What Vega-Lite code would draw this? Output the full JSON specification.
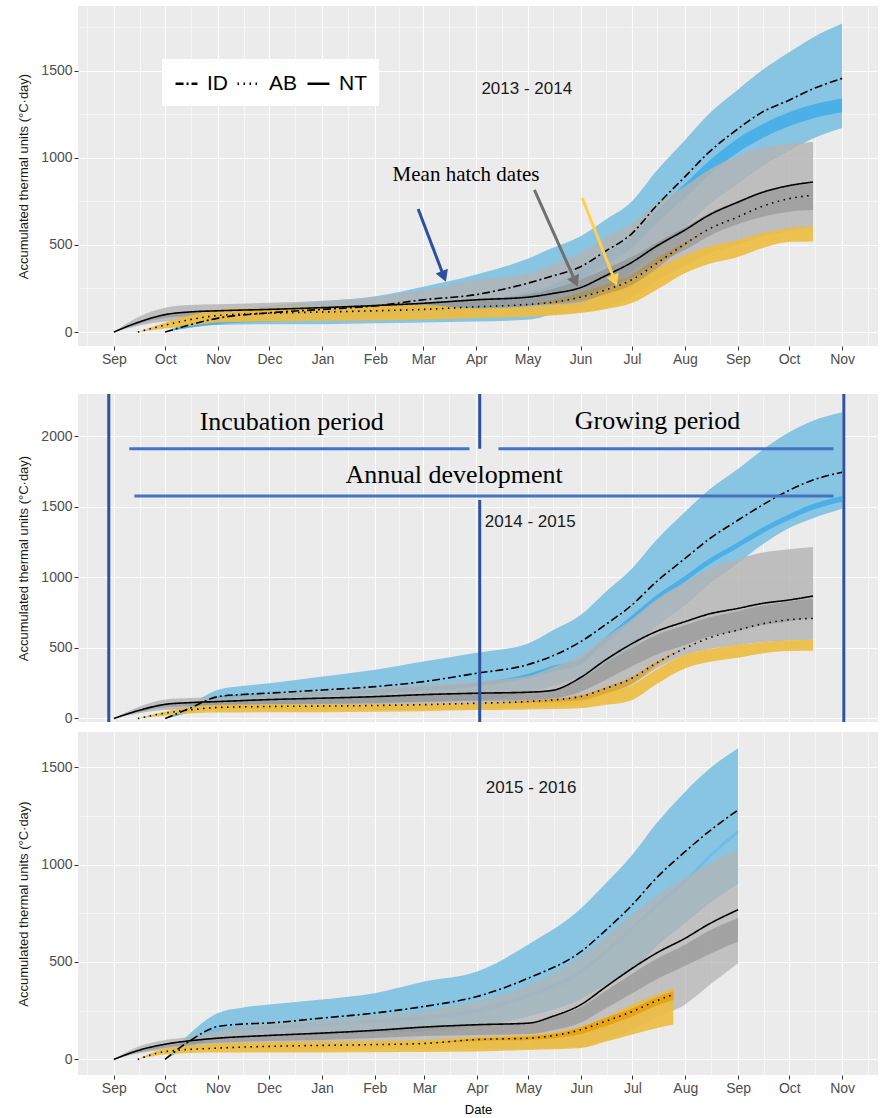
{
  "$schema": "https://vega.github.io/schema/vega-lite/v6.json",
  "padding": {"left": 17, "top": 6, "right": 0, "bottom": 0},
  "background": "white",
  "spacing": 6,
  "resolve": {"scale": {"strokeDash": "independent"}},
  "config": {
    "font": "Liberation Sans",
    "view": {"fill": "#ebebeb", "stroke": null},
    "axis": {"domain": false, "tickColor": "#333333", "tickSize": 4, "labelFontSize": 14, "labelColor": "#4d4d4d", "labelPadding": 2, "gridColor": "#ffffff", "titleFontSize": 13, "titleFontWeight": "normal", "titleColor": "#1a1a1a", "labelFont": "Liberation Sans", "titleFont": "Liberation Sans"}
  },
  "datasets": {
    "series": [
      {"p":1,"s":"NT","d":"2013-09-01","m":0,"lo":0,"hi":0,"ilo":0,"ihi":0},
      {"p":1,"s":"NT","d":"2013-09-15","m":55,"lo":35,"hi":85,"ilo":45,"ihi":58},
      {"p":1,"s":"NT","d":"2013-10-01","m":100,"lo":60,"hi":140,"ilo":80,"ihi":104},
      {"p":1,"s":"NT","d":"2013-10-15","m":115,"lo":65,"hi":155,"ilo":90,"ihi":118},
      {"p":1,"s":"NT","d":"2013-11-01","m":122,"lo":65,"hi":160,"ilo":95,"ihi":124},
      {"p":1,"s":"NT","d":"2013-12-01","m":130,"lo":65,"hi":168,"ilo":100,"ihi":132},
      {"p":1,"s":"NT","d":"2014-01-01","m":140,"lo":65,"hi":180,"ilo":105,"ihi":142},
      {"p":1,"s":"NT","d":"2014-02-01","m":152,"lo":65,"hi":200,"ilo":112,"ihi":154},
      {"p":1,"s":"NT","d":"2014-03-01","m":165,"lo":70,"hi":240,"ilo":120,"ihi":168},
      {"p":1,"s":"NT","d":"2014-04-01","m":185,"lo":80,"hi":300,"ilo":135,"ihi":190},
      {"p":1,"s":"NT","d":"2014-05-01","m":200,"lo":95,"hi":335,"ilo":150,"ihi":215},
      {"p":1,"s":"NT","d":"2014-05-15","m":220,"lo":105,"hi":385,"ilo":165,"ihi":245},
      {"p":1,"s":"NT","d":"2014-06-01","m":255,"lo":115,"hi":455,"ilo":200,"ihi":300},
      {"p":1,"s":"NT","d":"2014-06-15","m":320,"lo":140,"hi":540,"ilo":250,"ihi":360},
      {"p":1,"s":"NT","d":"2014-07-01","m":400,"lo":200,"hi":625,"ilo":310,"ihi":430},
      {"p":1,"s":"NT","d":"2014-07-15","m":490,"lo":290,"hi":730,"ilo":390,"ihi":510},
      {"p":1,"s":"NT","d":"2014-08-01","m":585,"lo":380,"hi":835,"ilo":470,"ihi":600},
      {"p":1,"s":"NT","d":"2014-08-15","m":670,"lo":450,"hi":930,"ilo":550,"ihi":680},
      {"p":1,"s":"NT","d":"2014-09-01","m":745,"lo":500,"hi":1010,"ilo":620,"ihi":750},
      {"p":1,"s":"NT","d":"2014-09-15","m":800,"lo":545,"hi":1055,"ilo":660,"ihi":800},
      {"p":1,"s":"NT","d":"2014-10-01","m":840,"lo":580,"hi":1080,"ilo":690,"ihi":840},
      {"p":1,"s":"NT","d":"2014-10-15","m":860,"lo":600,"hi":1090,"ilo":700,"ihi":850},

      {"p":1,"s":"ID","d":"2013-10-01","m":0,"lo":0,"hi":0,"ilo":0,"ihi":0},
      {"p":1,"s":"ID","d":"2013-10-15","m":40,"lo":25,"hi":60,"ilo":25,"ihi":45},
      {"p":1,"s":"ID","d":"2013-11-01","m":80,"lo":40,"hi":110,"ilo":45,"ihi":85},
      {"p":1,"s":"ID","d":"2013-12-01","m":110,"lo":45,"hi":150,"ilo":60,"ihi":110},
      {"p":1,"s":"ID","d":"2014-01-01","m":130,"lo":45,"hi":175,"ilo":70,"ihi":125},
      {"p":1,"s":"ID","d":"2014-02-01","m":150,"lo":50,"hi":205,"ilo":85,"ihi":140},
      {"p":1,"s":"ID","d":"2014-03-01","m":185,"lo":55,"hi":260,"ilo":100,"ihi":160},
      {"p":1,"s":"ID","d":"2014-04-01","m":215,"lo":60,"hi":330,"ilo":120,"ihi":185},
      {"p":1,"s":"ID","d":"2014-05-01","m":280,"lo":70,"hi":420,"ilo":150,"ihi":230},
      {"p":1,"s":"ID","d":"2014-05-15","m":320,"lo":100,"hi":480,"ilo":200,"ihi":270},
      {"p":1,"s":"ID","d":"2014-06-01","m":375,"lo":150,"hi":550,"ilo":290,"ihi":360},
      {"p":1,"s":"ID","d":"2014-06-15","m":460,"lo":240,"hi":640,"ilo":380,"ihi":450},
      {"p":1,"s":"ID","d":"2014-07-01","m":565,"lo":350,"hi":750,"ilo":480,"ihi":550},
      {"p":1,"s":"ID","d":"2014-07-15","m":720,"lo":470,"hi":920,"ilo":620,"ihi":690},
      {"p":1,"s":"ID","d":"2014-08-01","m":890,"lo":600,"hi":1100,"ilo":770,"ihi":850},
      {"p":1,"s":"ID","d":"2014-08-15","m":1030,"lo":730,"hi":1250,"ilo":900,"ihi":980},
      {"p":1,"s":"ID","d":"2014-09-01","m":1165,"lo":850,"hi":1390,"ilo":1030,"ihi":1110},
      {"p":1,"s":"ID","d":"2014-09-15","m":1260,"lo":950,"hi":1500,"ilo":1110,"ihi":1190},
      {"p":1,"s":"ID","d":"2014-10-01","m":1330,"lo":1040,"hi":1605,"ilo":1180,"ihi":1260},
      {"p":1,"s":"ID","d":"2014-10-15","m":1395,"lo":1110,"hi":1690,"ilo":1225,"ihi":1305},
      {"p":1,"s":"ID","d":"2014-11-01","m":1455,"lo":1170,"hi":1770,"ilo":1260,"ihi":1340},

      {"p":1,"s":"AB","d":"2013-09-15","m":0,"lo":0,"hi":0,"ilo":0,"ihi":0},
      {"p":1,"s":"AB","d":"2013-10-01","m":40,"lo":20,"hi":55,"ilo":40,"ihi":40},
      {"p":1,"s":"AB","d":"2013-10-15","m":70,"lo":35,"hi":95,"ilo":70,"ihi":70},
      {"p":1,"s":"AB","d":"2013-11-01","m":95,"lo":55,"hi":125,"ilo":95,"ihi":95},
      {"p":1,"s":"AB","d":"2013-12-01","m":108,"lo":60,"hi":140,"ilo":108,"ihi":108},
      {"p":1,"s":"AB","d":"2014-01-01","m":115,"lo":65,"hi":145,"ilo":115,"ihi":115},
      {"p":1,"s":"AB","d":"2014-02-01","m":122,"lo":68,"hi":150,"ilo":122,"ihi":122},
      {"p":1,"s":"AB","d":"2014-03-01","m":130,"lo":72,"hi":155,"ilo":130,"ihi":130},
      {"p":1,"s":"AB","d":"2014-04-01","m":145,"lo":80,"hi":135,"ilo":145,"ihi":145},
      {"p":1,"s":"AB","d":"2014-05-01","m":158,"lo":88,"hi":145,"ilo":158,"ihi":158},
      {"p":1,"s":"AB","d":"2014-05-15","m":170,"lo":95,"hi":155,"ilo":160,"ihi":182},
      {"p":1,"s":"AB","d":"2014-06-01","m":200,"lo":109,"hi":170,"ilo":175,"ihi":225},
      {"p":1,"s":"AB","d":"2014-06-15","m":240,"lo":130,"hi":230,"ilo":215,"ihi":270},
      {"p":1,"s":"AB","d":"2014-07-01","m":300,"lo":166,"hi":285,"ilo":270,"ihi":330},
      {"p":1,"s":"AB","d":"2014-07-15","m":390,"lo":240,"hi":360,"ilo":360,"ihi":420},
      {"p":1,"s":"AB","d":"2014-08-01","m":505,"lo":337,"hi":440,"ilo":495,"ihi":515},
      {"p":1,"s":"AB","d":"2014-08-15","m":590,"lo":390,"hi":490,"ilo":590,"ihi":590},
      {"p":1,"s":"AB","d":"2014-09-01","m":660,"lo":430,"hi":527,"ilo":660,"ihi":660},
      {"p":1,"s":"AB","d":"2014-09-15","m":720,"lo":480,"hi":565,"ilo":720,"ihi":720},
      {"p":1,"s":"AB","d":"2014-10-01","m":765,"lo":517,"hi":596,"ilo":765,"ihi":765},
      {"p":1,"s":"AB","d":"2014-10-15","m":785,"lo":520,"hi":605,"ilo":785,"ihi":785},

      {"p":2,"s":"NT","d":"2014-09-01","m":0,"lo":0,"hi":0,"ilo":0,"ihi":0},
      {"p":2,"s":"NT","d":"2014-09-15","m":55,"lo":35,"hi":80,"ilo":45,"ihi":58},
      {"p":2,"s":"NT","d":"2014-10-01","m":100,"lo":60,"hi":135,"ilo":80,"ihi":104},
      {"p":2,"s":"NT","d":"2014-10-15","m":112,"lo":62,"hi":145,"ilo":88,"ihi":115},
      {"p":2,"s":"NT","d":"2014-11-01","m":120,"lo":62,"hi":150,"ilo":92,"ihi":123},
      {"p":2,"s":"NT","d":"2014-12-01","m":134,"lo":62,"hi":175,"ilo":100,"ihi":137},
      {"p":2,"s":"NT","d":"2015-01-01","m":144,"lo":62,"hi":195,"ilo":105,"ihi":147},
      {"p":2,"s":"NT","d":"2015-02-01","m":155,"lo":62,"hi":215,"ilo":110,"ihi":158},
      {"p":2,"s":"NT","d":"2015-03-01","m":169,"lo":65,"hi":240,"ilo":118,"ihi":172},
      {"p":2,"s":"NT","d":"2015-04-01","m":179,"lo":70,"hi":265,"ilo":125,"ihi":182},
      {"p":2,"s":"NT","d":"2015-05-01","m":186,"lo":80,"hi":300,"ilo":130,"ihi":190},
      {"p":2,"s":"NT","d":"2015-05-15","m":198,"lo":90,"hi":360,"ilo":140,"ihi":200},
      {"p":2,"s":"NT","d":"2015-06-01","m":290,"lo":110,"hi":450,"ilo":190,"ihi":280},
      {"p":2,"s":"NT","d":"2015-06-15","m":410,"lo":170,"hi":570,"ilo":270,"ihi":390},
      {"p":2,"s":"NT","d":"2015-07-01","m":530,"lo":240,"hi":705,"ilo":370,"ihi":500},
      {"p":2,"s":"NT","d":"2015-07-15","m":615,"lo":350,"hi":840,"ilo":450,"ihi":590},
      {"p":2,"s":"NT","d":"2015-08-01","m":686,"lo":450,"hi":965,"ilo":520,"ihi":660},
      {"p":2,"s":"NT","d":"2015-08-15","m":740,"lo":490,"hi":1060,"ilo":580,"ihi":715},
      {"p":2,"s":"NT","d":"2015-09-01","m":780,"lo":520,"hi":1130,"ilo":620,"ihi":760},
      {"p":2,"s":"NT","d":"2015-09-15","m":815,"lo":540,"hi":1175,"ilo":660,"ihi":800},
      {"p":2,"s":"NT","d":"2015-10-01","m":840,"lo":552,"hi":1200,"ilo":690,"ihi":830},
      {"p":2,"s":"NT","d":"2015-10-15","m":868,"lo":558,"hi":1215,"ilo":710,"ihi":850},

      {"p":2,"s":"ID","d":"2014-10-01","m":0,"lo":0,"hi":0,"ilo":0,"ihi":0},
      {"p":2,"s":"ID","d":"2014-10-15","m":70,"lo":40,"hi":95,"ilo":45,"ihi":80},
      {"p":2,"s":"ID","d":"2014-11-01","m":155,"lo":80,"hi":204,"ilo":125,"ihi":155},
      {"p":2,"s":"ID","d":"2014-11-15","m":170,"lo":90,"hi":230,"ilo":140,"ihi":170},
      {"p":2,"s":"ID","d":"2014-12-01","m":180,"lo":95,"hi":250,"ilo":145,"ihi":175},
      {"p":2,"s":"ID","d":"2015-01-01","m":202,"lo":100,"hi":297,"ilo":160,"ihi":190},
      {"p":2,"s":"ID","d":"2015-02-01","m":226,"lo":105,"hi":345,"ilo":175,"ihi":205},
      {"p":2,"s":"ID","d":"2015-03-01","m":261,"lo":115,"hi":403,"ilo":195,"ihi":225},
      {"p":2,"s":"ID","d":"2015-04-01","m":320,"lo":130,"hi":465,"ilo":225,"ihi":255},
      {"p":2,"s":"ID","d":"2015-05-01","m":381,"lo":180,"hi":530,"ilo":285,"ihi":315},
      {"p":2,"s":"ID","d":"2015-05-15","m":440,"lo":230,"hi":620,"ilo":330,"ihi":370},
      {"p":2,"s":"ID","d":"2015-06-01","m":544,"lo":300,"hi":733,"ilo":385,"ihi":425},
      {"p":2,"s":"ID","d":"2015-06-15","m":660,"lo":390,"hi":890,"ilo":530,"ihi":570},
      {"p":2,"s":"ID","d":"2015-07-01","m":804,"lo":500,"hi":1062,"ilo":690,"ihi":730},
      {"p":2,"s":"ID","d":"2015-07-15","m":965,"lo":650,"hi":1260,"ilo":830,"ihi":870},
      {"p":2,"s":"ID","d":"2015-08-01","m":1133,"lo":800,"hi":1463,"ilo":970,"ihi":1010},
      {"p":2,"s":"ID","d":"2015-08-15","m":1270,"lo":950,"hi":1620,"ilo":1090,"ihi":1130},
      {"p":2,"s":"ID","d":"2015-09-01","m":1405,"lo":1100,"hi":1769,"ilo":1210,"ihi":1250},
      {"p":2,"s":"ID","d":"2015-09-15","m":1510,"lo":1230,"hi":1900,"ilo":1310,"ihi":1350},
      {"p":2,"s":"ID","d":"2015-10-01","m":1617,"lo":1350,"hi":2028,"ilo":1408,"ihi":1448},
      {"p":2,"s":"ID","d":"2015-10-15","m":1690,"lo":1420,"hi":2110,"ilo":1480,"ihi":1520},
      {"p":2,"s":"ID","d":"2015-11-01","m":1745,"lo":1486,"hi":2170,"ilo":1537,"ihi":1577},

      {"p":2,"s":"AB","d":"2014-09-15","m":0,"lo":0,"hi":0,"ilo":0,"ihi":0},
      {"p":2,"s":"AB","d":"2014-10-01","m":38,"lo":20,"hi":50,"ilo":38,"ihi":38},
      {"p":2,"s":"AB","d":"2014-10-15","m":60,"lo":35,"hi":80,"ilo":60,"ihi":60},
      {"p":2,"s":"AB","d":"2014-11-01","m":78,"lo":42,"hi":98,"ilo":78,"ihi":78},
      {"p":2,"s":"AB","d":"2014-12-01","m":85,"lo":45,"hi":100,"ilo":85,"ihi":85},
      {"p":2,"s":"AB","d":"2015-01-01","m":88,"lo":45,"hi":100,"ilo":88,"ihi":88},
      {"p":2,"s":"AB","d":"2015-02-01","m":92,"lo":48,"hi":102,"ilo":92,"ihi":92},
      {"p":2,"s":"AB","d":"2015-03-01","m":98,"lo":52,"hi":105,"ilo":98,"ihi":98},
      {"p":2,"s":"AB","d":"2015-04-01","m":108,"lo":60,"hi":110,"ilo":108,"ihi":108},
      {"p":2,"s":"AB","d":"2015-05-01","m":120,"lo":64,"hi":120,"ilo":112,"ihi":125},
      {"p":2,"s":"AB","d":"2015-06-01","m":155,"lo":73,"hi":140,"ilo":130,"ihi":165},
      {"p":2,"s":"AB","d":"2015-06-15","m":210,"lo":95,"hi":190,"ilo":175,"ihi":220},
      {"p":2,"s":"AB","d":"2015-07-01","m":285,"lo":130,"hi":237,"ilo":245,"ihi":295},
      {"p":2,"s":"AB","d":"2015-07-15","m":390,"lo":240,"hi":345,"ilo":370,"ihi":400},
      {"p":2,"s":"AB","d":"2015-08-01","m":497,"lo":355,"hi":452,"ilo":497,"ihi":497},
      {"p":2,"s":"AB","d":"2015-08-15","m":570,"lo":400,"hi":490,"ilo":570,"ihi":570},
      {"p":2,"s":"AB","d":"2015-09-01","m":627,"lo":430,"hi":522,"ilo":627,"ihi":627},
      {"p":2,"s":"AB","d":"2015-09-15","m":670,"lo":460,"hi":540,"ilo":670,"ihi":670},
      {"p":2,"s":"AB","d":"2015-10-01","m":700,"lo":478,"hi":555,"ilo":700,"ihi":700},
      {"p":2,"s":"AB","d":"2015-10-15","m":709,"lo":480,"hi":558,"ilo":709,"ihi":709},

      {"p":3,"s":"NT","d":"2015-09-01","m":0,"lo":0,"hi":0,"ilo":0,"ihi":0},
      {"p":3,"s":"NT","d":"2015-09-15","m":45,"lo":30,"hi":65,"ilo":35,"ihi":48},
      {"p":3,"s":"NT","d":"2015-10-01","m":78,"lo":50,"hi":100,"ilo":60,"ihi":80},
      {"p":3,"s":"NT","d":"2015-10-15","m":95,"lo":55,"hi":115,"ilo":75,"ihi":97},
      {"p":3,"s":"NT","d":"2015-11-01","m":109,"lo":55,"hi":150,"ilo":85,"ihi":111},
      {"p":3,"s":"NT","d":"2015-12-01","m":123,"lo":55,"hi":185,"ilo":95,"ihi":125},
      {"p":3,"s":"NT","d":"2016-01-01","m":135,"lo":55,"hi":200,"ilo":100,"ihi":137},
      {"p":3,"s":"NT","d":"2016-02-01","m":149,"lo":55,"hi":225,"ilo":110,"ihi":151},
      {"p":3,"s":"NT","d":"2016-03-01","m":166,"lo":55,"hi":250,"ilo":120,"ihi":168},
      {"p":3,"s":"NT","d":"2016-04-01","m":178,"lo":55,"hi":300,"ilo":125,"ihi":180},
      {"p":3,"s":"NT","d":"2016-05-01","m":186,"lo":55,"hi":380,"ilo":130,"ihi":188},
      {"p":3,"s":"NT","d":"2016-05-15","m":220,"lo":58,"hi":440,"ilo":150,"ihi":215},
      {"p":3,"s":"NT","d":"2016-06-01","m":282,"lo":65,"hi":530,"ilo":190,"ihi":270},
      {"p":3,"s":"NT","d":"2016-06-15","m":370,"lo":100,"hi":630,"ilo":260,"ihi":350},
      {"p":3,"s":"NT","d":"2016-07-01","m":468,"lo":150,"hi":743,"ilo":340,"ihi":440},
      {"p":3,"s":"NT","d":"2016-07-15","m":545,"lo":215,"hi":840,"ilo":410,"ihi":515},
      {"p":3,"s":"NT","d":"2016-08-01","m":622,"lo":282,"hi":930,"ilo":480,"ihi":590},
      {"p":3,"s":"NT","d":"2016-08-15","m":695,"lo":380,"hi":1005,"ilo":540,"ihi":660},
      {"p":3,"s":"NT","d":"2016-09-01","m":768,"lo":494,"hi":1077,"ilo":605,"ihi":725},

      {"p":3,"s":"ID","d":"2015-10-01","m":0,"lo":0,"hi":0,"ilo":0,"ihi":0},
      {"p":3,"s":"ID","d":"2015-10-15","m":92,"lo":60,"hi":128,"ilo":70,"ihi":95},
      {"p":3,"s":"ID","d":"2015-11-01","m":169,"lo":110,"hi":238,"ilo":140,"ihi":160},
      {"p":3,"s":"ID","d":"2015-11-15","m":181,"lo":115,"hi":265,"ilo":148,"ihi":168},
      {"p":3,"s":"ID","d":"2015-12-01","m":187,"lo":120,"hi":282,"ilo":153,"ihi":173},
      {"p":3,"s":"ID","d":"2016-01-01","m":212,"lo":125,"hi":308,"ilo":170,"ihi":190},
      {"p":3,"s":"ID","d":"2016-02-01","m":238,"lo":135,"hi":340,"ilo":185,"ihi":205},
      {"p":3,"s":"ID","d":"2016-03-01","m":272,"lo":145,"hi":400,"ilo":205,"ihi":225},
      {"p":3,"s":"ID","d":"2016-04-01","m":323,"lo":170,"hi":451,"ilo":240,"ihi":260},
      {"p":3,"s":"ID","d":"2016-05-01","m":417,"lo":220,"hi":590,"ilo":320,"ihi":340},
      {"p":3,"s":"ID","d":"2016-06-01","m":554,"lo":310,"hi":776,"ilo":440,"ihi":460},
      {"p":3,"s":"ID","d":"2016-06-15","m":660,"lo":380,"hi":900,"ilo":540,"ihi":560},
      {"p":3,"s":"ID","d":"2016-07-01","m":794,"lo":460,"hi":1050,"ilo":663,"ihi":683},
      {"p":3,"s":"ID","d":"2016-07-15","m":930,"lo":580,"hi":1210,"ilo":780,"ihi":800},
      {"p":3,"s":"ID","d":"2016-08-01","m":1067,"lo":700,"hi":1374,"ilo":903,"ihi":923},
      {"p":3,"s":"ID","d":"2016-08-15","m":1170,"lo":800,"hi":1490,"ilo":1030,"ihi":1050},
      {"p":3,"s":"ID","d":"2016-09-01","m":1280,"lo":900,"hi":1596,"ilo":1159,"ihi":1179},

      {"p":3,"s":"AB","d":"2015-09-15","m":0,"lo":0,"hi":0,"ilo":0,"ihi":0},
      {"p":3,"s":"AB","d":"2015-10-01","m":40,"lo":25,"hi":55,"ilo":40,"ihi":40},
      {"p":3,"s":"AB","d":"2015-11-01","m":58,"lo":35,"hi":80,"ilo":58,"ihi":58},
      {"p":3,"s":"AB","d":"2015-12-01","m":67,"lo":35,"hi":88,"ilo":67,"ihi":67},
      {"p":3,"s":"AB","d":"2016-01-01","m":72,"lo":36,"hi":92,"ilo":72,"ihi":72},
      {"p":3,"s":"AB","d":"2016-02-01","m":76,"lo":37,"hi":95,"ilo":76,"ihi":76},
      {"p":3,"s":"AB","d":"2016-03-01","m":82,"lo":38,"hi":100,"ilo":82,"ihi":82},
      {"p":3,"s":"AB","d":"2016-04-01","m":102,"lo":41,"hi":115,"ilo":95,"ihi":108},
      {"p":3,"s":"AB","d":"2016-05-01","m":109,"lo":48,"hi":125,"ilo":100,"ihi":118},
      {"p":3,"s":"AB","d":"2016-06-01","m":153,"lo":58,"hi":170,"ilo":130,"ihi":165},
      {"p":3,"s":"AB","d":"2016-06-15","m":195,"lo":90,"hi":215,"ilo":170,"ihi":212},
      {"p":3,"s":"AB","d":"2016-07-01","m":246,"lo":128,"hi":282,"ilo":220,"ihi":262},
      {"p":3,"s":"AB","d":"2016-07-15","m":300,"lo":160,"hi":330,"ilo":275,"ihi":318},
      {"p":3,"s":"AB","d":"2016-07-25","m":333,"lo":179,"hi":366,"ilo":305,"ihi":350}
    ]
  },
  "vconcat": [
    {
      "width": 800,
      "height": 340,
      "data": {"name": "series"},
      "encoding": {
        "x": {
          "field": "d", "type": "temporal", "title": null,
          "scale": {"type": "utc", "domain": [{"year": 2013, "month": 8, "date": 11, "utc": true}, {"year": 2014, "month": 11, "date": 22, "utc": true}]},
          "axis": {
            "title": null,
            "values": {"expr": "[utc(2013,7,16),utc(2013,8,1),utc(2013,8,16),utc(2013,9,1),utc(2013,9,16),utc(2013,10,1),utc(2013,10,16),utc(2013,11,1),utc(2013,11,16),utc(2014,0,1),utc(2014,0,16),utc(2014,1,1),utc(2014,1,15),utc(2014,2,1),utc(2014,2,16),utc(2014,3,1),utc(2014,3,16),utc(2014,4,1),utc(2014,4,16),utc(2014,5,1),utc(2014,5,16),utc(2014,6,1),utc(2014,6,16),utc(2014,7,1),utc(2014,7,16),utc(2014,8,1),utc(2014,8,16),utc(2014,9,1),utc(2014,9,16),utc(2014,10,1),utc(2014,10,16)]"},
            "labelExpr": "utcdate(datum.value) == 1 ? utcFormat(datum.value, '%b') : ''",
            "labelOverlap": false, "labelBound": false, "labelFlush": false,
            "gridWidth": {"condition": {"test": "utcdate(datum.value) == 1", "value": 1.1}, "value": 0.5},
            "tickOpacity": {"condition": {"test": "utcdate(datum.value) == 1", "value": 1}, "value": 0},
            "minExtent": 40
          }
        }
      },
      "layer": [
        {"transform": [{"filter": "datum.p == 1 && datum.s == 'ID'"}],
         "mark": {"type": "area", "color": "#87c5e3", "interpolate": "monotone"},
         "encoding": {
           "y": {"field": "lo", "type": "quantitative", "title": "Accumulated thermal units (°C·day)", "scale": {"domain": [-80, 1870], "nice": false, "zero": false},
             "axis": {"title": "Accumulated thermal units (°C·day)", "values": [0, 250, 500, 750, 1000, 1250, 1500, 1750],
               "labelExpr": "datum.value % 500 == 0 ? format(datum.value, 'd') : ''",
               "gridWidth": {"condition": {"test": "datum.value % 500 == 0", "value": 1.1}, "value": 0.5},
               "tickOpacity": {"condition": {"test": "datum.value % 500 == 0", "value": 1}, "value": 0},
               "titlePadding": 10}},
           "y2": {"field": "hi"}}},
        {"transform": [{"filter": "datum.p == 1 && datum.s == 'ID'"}],
         "mark": {"type": "area", "color": "#4cb0e8", "interpolate": "monotone"},
         "encoding": {"y": {"field": "ilo", "type": "quantitative", "title": "Accumulated thermal units (°C·day)"}, "y2": {"field": "ihi"}}},
        {"transform": [{"filter": "datum.p == 1 && datum.s == 'NT'"}],
         "mark": {"type": "area", "color": "#b3b3b3", "opacity": 0.82, "interpolate": "monotone"},
         "encoding": {"y": {"field": "lo", "type": "quantitative", "title": "Accumulated thermal units (°C·day)"}, "y2": {"field": "hi"}}},
        {"transform": [{"filter": "datum.p == 1 && datum.s == 'NT'"}],
         "mark": {"type": "area", "color": "#8a8a8a", "opacity": 0.55, "interpolate": "monotone"},
         "encoding": {"y": {"field": "ilo", "type": "quantitative", "title": "Accumulated thermal units (°C·day)"}, "y2": {"field": "ihi"}}},
        {"transform": [{"filter": "datum.p == 1 && datum.s == 'AB'"}],
         "mark": {"type": "area", "color": "#ecbc3f", "opacity": 0.9, "interpolate": "monotone"},
         "encoding": {"y": {"field": "lo", "type": "quantitative", "title": "Accumulated thermal units (°C·day)"}, "y2": {"field": "hi"}}},
        {"transform": [{"filter": "datum.p == 1 && datum.s == 'AB'"}],
         "mark": {"type": "area", "color": "#b98a2a", "opacity": 0.55, "interpolate": "monotone"},
         "encoding": {"y": {"field": "ilo", "type": "quantitative", "title": "Accumulated thermal units (°C·day)"}, "y2": {"field": "ihi"}}},
        {"transform": [{"filter": "datum.p == 1"}],
         "mark": {"type": "line", "color": "black", "strokeWidth": 1.6, "interpolate": "monotone"},
         "encoding": {
           "y": {"field": "m", "type": "quantitative", "title": "Accumulated thermal units (°C·day)"},
           "strokeDash": {"field": "s", "type": "nominal",
             "scale": {"domain": ["ID", "AB", "NT"], "range": [[8, 3, 2, 3], [1.5, 4.5], [1, 0]]},
             "legend": {"title": null, "orient": "none", "legendX": 84, "legendY": 53, "direction": "horizontal",
               "fillColor": "white", "padding": 12, "labelFontSize": 21, "labelColor": "black", "labelFont": "Liberation Sans",
               "symbolType": "stroke", "symbolSize": 480, "symbolStrokeWidth": 2.5, "symbolStrokeColor": "black",
               "columnPadding": 4, "labelOffset": 8}}}},
        {"data": {"values": [{"d": "2014-04-04", "v": 1394, "t": "2013 - 2014"}]},
         "mark": {"type": "text", "align": "left", "baseline": "middle", "fontSize": 17, "font": "Liberation Sans", "color": "#1a1a1a"},
         "encoding": {"y": {"field": "v", "type": "quantitative", "title": "Accumulated thermal units (°C·day)"}, "text": {"field": "t"}}},
        {"data": {"values": [{"d": "2014-03-26", "v": 901, "t": "Mean hatch dates"}]},
         "mark": {"type": "text", "align": "center", "baseline": "middle", "fontSize": 21, "font": "Liberation Serif", "color": "black"},
         "encoding": {"y": {"field": "v", "type": "quantitative", "title": "Accumulated thermal units (°C·day)"}, "text": {"field": "t"}}},
        {"data": {"values": [{"d": "2014-02-26", "v": 706, "d2": "2014-03-13", "v2": 319}]},
         "layer": [
           {"mark": {"type": "rule", "color": "#2e4f9b", "strokeWidth": 3},
            "encoding": {"y": {"field": "v", "type": "quantitative", "title": "Accumulated thermal units (°C·day)"}, "x2": {"field": "d2"}, "y2": {"field": "v2"}}},
           {"mark": {"type": "point", "shape": "triangle-down", "filled": true, "opacity": 1, "color": "#2e4f9b", "size": 170, "angle": -21},
            "encoding": {"x": {"field": "d2", "type": "temporal", "title": null}, "y": {"field": "v2", "type": "quantitative", "title": "Accumulated thermal units (°C·day)"}}}
         ]},
        {"data": {"values": [{"d": "2014-05-05", "v": 815, "d2": "2014-05-29", "v2": 289}]},
         "layer": [
           {"mark": {"type": "rule", "color": "#707070", "strokeWidth": 3},
            "encoding": {"y": {"field": "v", "type": "quantitative", "title": "Accumulated thermal units (°C·day)"}, "x2": {"field": "d2"}, "y2": {"field": "v2"}}},
           {"mark": {"type": "point", "shape": "triangle-down", "filled": true, "opacity": 1, "color": "#707070", "size": 170, "angle": -25},
            "encoding": {"x": {"field": "d2", "type": "temporal", "title": null}, "y": {"field": "v2", "type": "quantitative", "title": "Accumulated thermal units (°C·day)"}}}
         ]},
        {"data": {"values": [{"d": "2014-06-02", "v": 769, "d2": "2014-06-21", "v2": 296}]},
         "layer": [
           {"mark": {"type": "rule", "color": "#ffd04f", "strokeWidth": 3},
            "encoding": {"y": {"field": "v", "type": "quantitative", "title": "Accumulated thermal units (°C·day)"}, "x2": {"field": "d2"}, "y2": {"field": "v2"}}},
           {"mark": {"type": "point", "shape": "triangle-down", "filled": true, "opacity": 1, "color": "#ffd04f", "size": 170, "angle": -22},
            "encoding": {"x": {"field": "d2", "type": "temporal", "title": null}, "y": {"field": "v2", "type": "quantitative", "title": "Accumulated thermal units (°C·day)"}}}
         ]}
      ]
    },
    {
      "width": 800,
      "height": 328,
      "data": {"name": "series"},
      "encoding": {
        "x": {
          "field": "d", "type": "temporal", "title": null,
          "scale": {"type": "utc", "domain": [{"year": 2014, "month": 8, "date": 11, "utc": true}, {"year": 2015, "month": 11, "date": 22, "utc": true}]},
          "axis": {
            "title": null, "labels": false, "ticks": false, "minExtent": 0, "maxExtent": 0,
            "values": {"expr": "[utc(2014,7,16),utc(2014,8,1),utc(2014,8,16),utc(2014,9,1),utc(2014,9,16),utc(2014,10,1),utc(2014,10,16),utc(2014,11,1),utc(2014,11,16),utc(2015,0,1),utc(2015,0,16),utc(2015,1,1),utc(2015,1,15),utc(2015,2,1),utc(2015,2,16),utc(2015,3,1),utc(2015,3,16),utc(2015,4,1),utc(2015,4,16),utc(2015,5,1),utc(2015,5,16),utc(2015,6,1),utc(2015,6,16),utc(2015,7,1),utc(2015,7,16),utc(2015,8,1),utc(2015,8,16),utc(2015,9,1),utc(2015,9,16),utc(2015,10,1),utc(2015,10,16)]"},
            "gridWidth": {"condition": {"test": "utcdate(datum.value) == 1", "value": 1.1}, "value": 0.5}
          }
        }
      },
      "layer": [
        {"transform": [{"filter": "datum.p == 2 && datum.s == 'ID'"}],
         "mark": {"type": "area", "color": "#87c5e3", "interpolate": "monotone"},
         "encoding": {
           "y": {"field": "lo", "type": "quantitative", "title": "Accumulated thermal units (°C·day)", "scale": {"domain": [-25, 2300], "nice": false, "zero": false},
             "axis": {"title": "Accumulated thermal units (°C·day)", "values": [0, 250, 500, 750, 1000, 1250, 1500, 1750, 2000, 2250],
               "labelExpr": "datum.value % 500 == 0 ? format(datum.value, 'd') : ''",
               "gridWidth": {"condition": {"test": "datum.value % 500 == 0", "value": 1.1}, "value": 0.5},
               "tickOpacity": {"condition": {"test": "datum.value % 500 == 0", "value": 1}, "value": 0},
               "titlePadding": 10}},
           "y2": {"field": "hi"}}},
        {"transform": [{"filter": "datum.p == 2 && datum.s == 'ID'"}],
         "mark": {"type": "area", "color": "#4cb0e8", "interpolate": "monotone"},
         "encoding": {"y": {"field": "ilo", "type": "quantitative", "title": "Accumulated thermal units (°C·day)"}, "y2": {"field": "ihi"}}},
        {"transform": [{"filter": "datum.p == 2 && datum.s == 'NT'"}],
         "mark": {"type": "area", "color": "#b3b3b3", "opacity": 0.82, "interpolate": "monotone"},
         "encoding": {"y": {"field": "lo", "type": "quantitative", "title": "Accumulated thermal units (°C·day)"}, "y2": {"field": "hi"}}},
        {"transform": [{"filter": "datum.p == 2 && datum.s == 'NT'"}],
         "mark": {"type": "area", "color": "#8a8a8a", "opacity": 0.55, "interpolate": "monotone"},
         "encoding": {"y": {"field": "ilo", "type": "quantitative", "title": "Accumulated thermal units (°C·day)"}, "y2": {"field": "ihi"}}},
        {"transform": [{"filter": "datum.p == 2 && datum.s == 'AB'"}],
         "mark": {"type": "area", "color": "#ecbc3f", "opacity": 0.9, "interpolate": "monotone"},
         "encoding": {"y": {"field": "lo", "type": "quantitative", "title": "Accumulated thermal units (°C·day)"}, "y2": {"field": "hi"}}},
        {"transform": [{"filter": "datum.p == 2 && datum.s == 'AB'"}],
         "mark": {"type": "area", "color": "#e59a00", "opacity": 0.6, "interpolate": "monotone"},
         "encoding": {"y": {"field": "ilo", "type": "quantitative", "title": "Accumulated thermal units (°C·day)"}, "y2": {"field": "ihi"}}},
        {"transform": [{"filter": "datum.p == 2"}],
         "mark": {"type": "line", "color": "black", "strokeWidth": 1.6, "interpolate": "monotone"},
         "encoding": {
           "y": {"field": "m", "type": "quantitative", "title": "Accumulated thermal units (°C·day)"},
           "strokeDash": {"field": "s", "type": "nominal",
             "scale": {"domain": ["ID", "AB", "NT"], "range": [[8, 3, 2, 3], [1.5, 4.5], [1, 0]]},
             "legend": null}}},
        {"data": {"values": [{"d": "2014-08-29"}, {"d": "2015-11-02"}]},
         "mark": {"type": "rule", "color": "#2f52a0", "strokeWidth": 3},
         "encoding": {}},
        {"data": {"values": [{"d": "2015-04-03", "v": 2300, "v2": 1912}, {"d": "2015-04-03", "v": 1549, "v2": -25}]},
         "mark": {"type": "rule", "color": "#2f52a0", "strokeWidth": 3},
         "encoding": {"y": {"field": "v", "type": "quantitative", "title": "Accumulated thermal units (°C·day)"}, "y2": {"field": "v2"}}},
        {"data": {"values": [
           {"d": "2014-09-10", "d2": "2015-03-28", "v": 1912},
           {"d": "2015-04-14", "d2": "2015-10-27", "v": 1912},
           {"d": "2014-09-13", "d2": "2015-10-27", "v": 1577}]},
         "mark": {"type": "rule", "color": "#4472c4", "strokeWidth": 3},
         "encoding": {"y": {"field": "v", "type": "quantitative", "title": "Accumulated thermal units (°C·day)"}, "x2": {"field": "d2"}}},
        {"data": {"values": [
           {"d": "2014-12-14", "v": 2101, "t": "Incubation period"},
           {"d": "2015-07-16", "v": 2108, "t": "Growing period"},
           {"d": "2015-03-19", "v": 1726, "t": "Annual development"}]},
         "mark": {"type": "text", "align": "center", "baseline": "middle", "fontSize": 26, "font": "Liberation Serif", "color": "black"},
         "encoding": {"y": {"field": "v", "type": "quantitative", "title": "Accumulated thermal units (°C·day)"}, "text": {"field": "t"}}},
        {"data": {"values": [{"d": "2015-04-06", "v": 1393, "t": "2014 - 2015"}]},
         "mark": {"type": "text", "align": "left", "baseline": "middle", "fontSize": 17, "font": "Liberation Sans", "color": "#1a1a1a"},
         "encoding": {"y": {"field": "v", "type": "quantitative", "title": "Accumulated thermal units (°C·day)"}, "text": {"field": "t"}}}
      ]
    },
    {
      "width": 800,
      "height": 343,
      "data": {"name": "series"},
      "encoding": {
        "x": {
          "field": "d", "type": "temporal", "title": "Date",
          "scale": {"type": "utc", "domain": [{"year": 2015, "month": 8, "date": 11, "utc": true}, {"year": 2016, "month": 11, "date": 22, "utc": true}]},
          "axis": {
            "title": "Date", "titlePadding": 8, "titleColor": "black",
            "values": {"expr": "[utc(2015,7,16),utc(2015,8,1),utc(2015,8,16),utc(2015,9,1),utc(2015,9,16),utc(2015,10,1),utc(2015,10,16),utc(2015,11,1),utc(2015,11,16),utc(2016,0,1),utc(2016,0,16),utc(2016,1,1),utc(2016,1,15),utc(2016,2,1),utc(2016,2,16),utc(2016,3,1),utc(2016,3,16),utc(2016,4,1),utc(2016,4,16),utc(2016,5,1),utc(2016,5,16),utc(2016,6,1),utc(2016,6,16),utc(2016,7,1),utc(2016,7,16),utc(2016,8,1),utc(2016,8,16),utc(2016,9,1),utc(2016,9,16),utc(2016,10,1),utc(2016,10,16)]"},
            "labelExpr": "utcdate(datum.value) == 1 ? utcFormat(datum.value, '%b') : ''",
            "labelOverlap": false, "labelBound": false, "labelFlush": false,
            "gridWidth": {"condition": {"test": "utcdate(datum.value) == 1", "value": 1.1}, "value": 0.5},
            "tickOpacity": {"condition": {"test": "utcdate(datum.value) == 1", "value": 1}, "value": 0}
          }
        }
      },
      "layer": [
        {"transform": [{"filter": "datum.p == 3 && datum.s == 'ID'"}],
         "mark": {"type": "area", "color": "#87c5e3", "interpolate": "monotone"},
         "encoding": {
           "y": {"field": "lo", "type": "quantitative", "title": "Accumulated thermal units (°C·day)", "scale": {"domain": [-80, 1680], "nice": false, "zero": false},
             "axis": {"title": "Accumulated thermal units (°C·day)", "values": [0, 250, 500, 750, 1000, 1250, 1500],
               "labelExpr": "datum.value % 500 == 0 ? format(datum.value, 'd') : ''",
               "gridWidth": {"condition": {"test": "datum.value % 500 == 0", "value": 1.1}, "value": 0.5},
               "tickOpacity": {"condition": {"test": "datum.value % 500 == 0", "value": 1}, "value": 0},
               "titlePadding": 10}},
           "y2": {"field": "hi"}}},
        {"transform": [{"filter": "datum.p == 3 && datum.s == 'ID'"}],
         "mark": {"type": "area", "color": "#6fbde8", "interpolate": "monotone"},
         "encoding": {"y": {"field": "ilo", "type": "quantitative", "title": "Accumulated thermal units (°C·day)"}, "y2": {"field": "ihi"}}},
        {"transform": [{"filter": "datum.p == 3 && datum.s == 'NT'"}],
         "mark": {"type": "area", "color": "#b3b3b3", "opacity": 0.75, "interpolate": "monotone"},
         "encoding": {"y": {"field": "lo", "type": "quantitative", "title": "Accumulated thermal units (°C·day)"}, "y2": {"field": "hi"}}},
        {"transform": [{"filter": "datum.p == 3 && datum.s == 'NT'"}],
         "mark": {"type": "area", "color": "#8a8a8a", "opacity": 0.55, "interpolate": "monotone"},
         "encoding": {"y": {"field": "ilo", "type": "quantitative", "title": "Accumulated thermal units (°C·day)"}, "y2": {"field": "ihi"}}},
        {"transform": [{"filter": "datum.p == 3 && datum.s == 'AB'"}],
         "mark": {"type": "area", "color": "#ecbc3f", "opacity": 0.9, "interpolate": "monotone"},
         "encoding": {"y": {"field": "lo", "type": "quantitative", "title": "Accumulated thermal units (°C·day)"}, "y2": {"field": "hi"}}},
        {"transform": [{"filter": "datum.p == 3 && datum.s == 'AB'"}],
         "mark": {"type": "area", "color": "#e59a00", "opacity": 0.7, "interpolate": "monotone"},
         "encoding": {"y": {"field": "ilo", "type": "quantitative", "title": "Accumulated thermal units (°C·day)"}, "y2": {"field": "ihi"}}},
        {"transform": [{"filter": "datum.p == 3"}],
         "mark": {"type": "line", "color": "black", "strokeWidth": 1.6, "interpolate": "monotone"},
         "encoding": {
           "y": {"field": "m", "type": "quantitative", "title": "Accumulated thermal units (°C·day)"},
           "strokeDash": {"field": "s", "type": "nominal",
             "scale": {"domain": ["ID", "AB", "NT"], "range": [[8, 3, 2, 3], [1.5, 4.5], [1, 0]]},
             "legend": null}}},
        {"data": {"values": [{"d": "2016-04-06", "v": 1393, "t": "2015 - 2016"}]},
         "mark": {"type": "text", "align": "left", "baseline": "middle", "fontSize": 17, "font": "Liberation Sans", "color": "#1a1a1a"},
         "encoding": {"y": {"field": "v", "type": "quantitative", "title": "Accumulated thermal units (°C·day)"}, "text": {"field": "t"}}}
      ]
    }
  ]
}
